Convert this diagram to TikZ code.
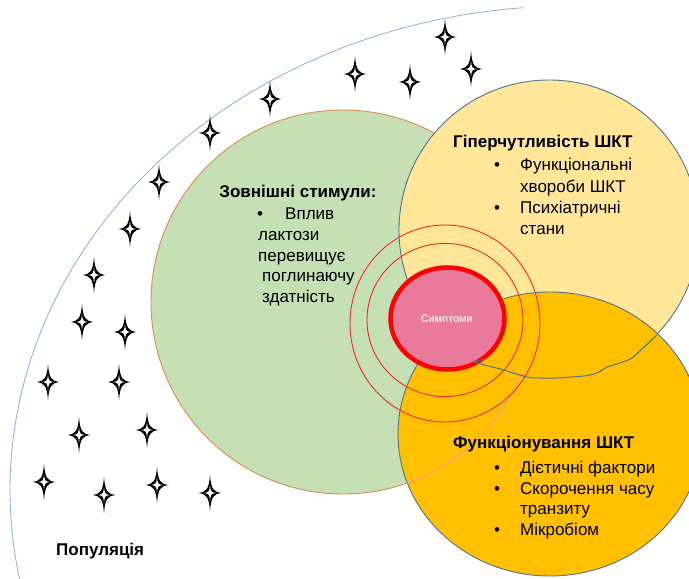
\documentclass[tikz,border=0pt]{standalone}
\usepackage{fontspec}
\setmainfont{Liberation Sans}
\usetikzlibrary{shapes.geometric}
\definecolor{greenfill}{HTML}{C5E0B4}
\definecolor{greenline}{HTML}{D98B55}
\definecolor{yellowfill}{HTML}{FFE699}
\definecolor{slate}{HTML}{52708F}
\definecolor{orangefill}{HTML}{FFC000}
\definecolor{symfill}{HTML}{EA7A9B}
\definecolor{symtext}{HTML}{FCE8EE}
\definecolor{ringred}{HTML}{F02828}
\definecolor{popblue}{HTML}{8FAADC}
\definecolor{pinkline}{HTML}{F0A08C}
\begin{document}
\begin{tikzpicture}[x=1pt,y=-1pt,
  head/.style={font=\fontsize{17}{20}\selectfont\bfseries, anchor=base west, inner sep=0pt},
  item/.style={font=\fontsize{17}{20}\selectfont, anchor=base west, inner sep=0pt},
  blob/.style={line width=0.9pt},
  ring/.style={draw=ringred, line width=0.9pt},
  sparkle/.pic={
    \fill[black] (0,18) .. controls (1.2,3.5) and (3.5,1.2) .. (11.5,0)
      .. controls (3.5,-1.2) and (1.2,-3.5) .. (0,-18)
      .. controls (-1.2,-3.5) and (-3.5,-1.2) .. (-11.5,0)
      .. controls (-3.5,1.2) and (-1.2,3.5) .. cycle;
    \fill[white] (0,8) .. controls (0.5,1.3) and (1.3,0.5) .. (6,0)
      .. controls (1.3,-0.5) and (0.5,-1.3) .. (0,-8)
      .. controls (-0.5,-1.3) and (-1.3,-0.5) .. (-6,0)
      .. controls (-1.3,0.5) and (-0.5,1.3) .. cycle;
  }]
\useasboundingbox (0,0) rectangle (689,579);
\clip (0,0) rectangle (689,579);
\fill[white] (0,0) rectangle (689,579);
% population boundary
\coordinate (popc) at (570,490);
\draw[popblue, line width=0.8pt] (popc) ++(94.8:560pt and 484pt) arc[start angle=94.8, end angle=193, x radius=560pt, y radius=484pt];
% stars
\foreach \p in {(445,37),(471,69),(355,74),(410,82),(270,99),(210,133),(159,182),(130,229),(94,275),(82,322),(125,332),(48,382),(119,382),(79,435),(147,430),(44,482),(104,495),(157,485),(210,493)}
  \pic at \p {sparkle};
% circles
\draw[blob, fill=greenfill, draw=greenline] (343,302) circle[radius=192pt];
\draw[blob, fill=yellowfill, draw=slate] (549,230) circle[radius=150pt];
\draw[blob, fill=orangefill, draw=slate] (550,434) ellipse[x radius=152pt, y radius=142pt];
\draw[pinkline, line width=0.9pt] (343,302) ++(-22.6:192pt) arc[start angle=-22.6, end angle=-70.5, radius=192pt];
% rings
\draw[ring] (445,323.5) ellipse[x radius=95pt, y radius=98.5pt];
\draw[ring] (445,320) ellipse[x radius=78pt, y radius=76.6pt];
% symptoms
\node (sym) [ellipse, draw=red, fill=symfill, line width=4.5pt, minimum width=114pt, minimum height=102pt, inner sep=0pt] at (447.5,318.5) {};
\node (symt) [text=symtext, font=\fontsize{11}{13}\selectfont\bfseries, inner sep=0pt] at (447,319) {\scalebox{0.92}[1]{Симптоми}};
% wavy boundary
\draw[slate, line width=1pt] (485,359) -- (473,362) plot[smooth] coordinates {(473,362) (500,369) (527,377) (540,378) (557,378) (583,376) (597,373) (607,367) (620,363) (632,358) (643,348) (657,335)};
% texts green
\node[head, anchor=base] (gh) at (298,197) {Зовнішні стимули:};
\node[item] (gb1) at (257,219) {•};
\node[item] (g1) at (285,219) {Вплив};
\node[item] (g2) at (258,240) {лактози};
\node[item] (g3) at (258,261) {перевищує};
\node[item] (g4) at (262,281) {поглинаючу};
\node[item] (g5) at (262,302) {здатність};
% texts yellow
\node[head] (yh) at (453,147) {Гіперчутливість ШКТ};
\node[item] (yb1) at (494,170) {•};
\node[item] (y1) at (520,170) {Функціональні};
\node[item] (y2) at (520,192) {хвороби ШКТ};
\node[item] (yb2) at (494,213) {•};
\node[item] (y3) at (520,213) {Психіатричні};
\node[item] (y4) at (520,234) {стани};
% texts orange
\node[head] (oh) at (453,448) {Функціонування ШКТ};
\node[item] (ob1) at (494,473) {•};
\node[item] (o1) at (520,473) {Дієтичні фактори};
\node[item] (ob2) at (494,494) {•};
\node[item] (o2) at (520,494) {Скорочення часу};
\node[item] (o3) at (520,514) {транзиту};
\node[item] (ob3) at (494,535) {•};
\node[item] (o4) at (520,535) {Мікробіом};
% population label
\node[head] (pop) at (56,555) {Популяція};
\end{tikzpicture}
\end{document}
